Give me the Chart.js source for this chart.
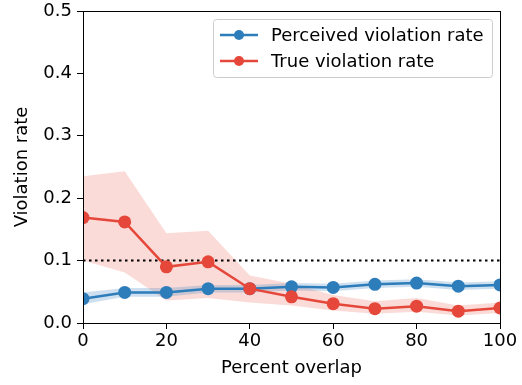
<!DOCTYPE html>
<html><head><meta charset="utf-8">
<script src="https://cdn.jsdelivr.net/npm/chart.js@4/dist/chart.umd.min.js"></script>
<style>html,body{margin:0;padding:0;background:#fff}#wrap{width:522px;height:385px}</style>
</head><body><div id="wrap"><canvas id="c" width="522" height="385"></canvas></div>
<script>
const overlap = [0,10,20,30,40,50,60,70,80,90,100];
const perceived = [0.039,0.049,0.049,0.055,0.055,0.058,0.057,0.062,0.064,0.059,0.061];
const perceivedLow = [0.030,0.042,0.042,0.049,0.049,0.052,0.051,0.056,0.058,0.053,0.055];
const perceivedHigh = [0.049,0.056,0.056,0.061,0.061,0.064,0.063,0.068,0.070,0.065,0.067];
const trueRate = [0.169,0.162,0.090,0.098,0.055,0.042,0.031,0.023,0.027,0.019,0.024];
const trueLow = [0.100,0.081,0.036,0.040,0.033,0.028,0.020,0.015,0.018,0.012,0.016];
const trueHigh = [0.235,0.243,0.144,0.148,0.076,0.063,0.045,0.035,0.040,0.028,0.033];
const threshold = 0.1;
const xTicks = [0,20,40,60,80,100];
const yTicks = [0,0.1,0.2,0.3,0.4,0.5];
const seriesNames = ['Perceived violation rate','True violation rate'];

const BLUE = '#2d7dbb', RED = '#e5483a';
const pts = a => a.map((v,i)=>({x:overlap[i], y:v}));
const FONT = 'DejaVu Sans';

const framePlugin = {
  id:'frame',
  afterDraw(chart){
    const {ctx, chartArea:a} = chart;
    ctx.save();
    ctx.strokeStyle='#000'; ctx.lineWidth=1;
    ctx.strokeRect(a.left+0.5, a.top+0.5, a.right-a.left, a.bottom-a.top);
    // legend
    const lx=213.5, ly=19.5, lw=279, lh=58;
    ctx.fillStyle='rgba(255,255,255,0.85)';
    ctx.strokeStyle='#cccccc';
    ctx.beginPath();
    if (ctx.roundRect) ctx.roundRect(lx,ly,lw,lh,3); else ctx.rect(lx,ly,lw,lh);
    ctx.fill(); ctx.stroke();
    const items=[[seriesNames[0],BLUE],[seriesNames[1],RED]];
    items.forEach((it,i)=>{
      const y = 35 + i*26;
      ctx.strokeStyle=it[1]; ctx.lineWidth=2.5;
      ctx.beginPath(); ctx.moveTo(220,y); ctx.lineTo(258,y); ctx.stroke();
      ctx.fillStyle=it[1];
      ctx.beginPath(); ctx.arc(239,y,5,0,Math.PI*2); ctx.fill();
      ctx.fillStyle='#000'; ctx.font='18px "'+FONT+'"';
      ctx.textBaseline='middle'; ctx.textAlign='left';
      ctx.fillText(it[0], 271, y+1);
    });
    ctx.restore();
  }
};

new Chart(document.getElementById('c'), {
  type:'line',
  data:{datasets:[
    {label:'tl', order:5, data:pts(trueLow), borderWidth:0, pointRadius:0, fill:false, borderColor:'transparent'},
    {label:'th', order:5, data:pts(trueHigh), borderWidth:0, pointRadius:0, fill:'-1', backgroundColor:'rgba(238,110,100,0.25)', borderColor:'transparent'},
    {label:'pl', order:4, data:pts(perceivedLow), borderWidth:0, pointRadius:0, fill:false, borderColor:'transparent'},
    {label:'ph', order:4, data:pts(perceivedHigh), borderWidth:0, pointRadius:0, fill:'-1', backgroundColor:'rgba(60,130,190,0.25)', borderColor:'transparent'},
    {label:'thr', order:3, data:[{x:0,y:threshold},{x:100,y:threshold}], borderColor:'#000', borderWidth:2, borderDash:[2.5,3.5], pointRadius:0, fill:false},
    {label:seriesNames[1], order:0, data:pts(trueRate), borderColor:RED, backgroundColor:RED, borderWidth:2.5, pointRadius:6.5, pointBorderWidth:0, fill:false},
    {label:seriesNames[0], order:1, data:pts(perceived), borderColor:BLUE, backgroundColor:BLUE, borderWidth:2.5, pointRadius:6.5, pointBorderWidth:0, fill:false}
  ]},
  options:{
    responsive:false, animation:false,
    layout:{padding:{left:0, top:11, right:22, bottom:0}},
    plugins:{legend:{display:false}, tooltip:{enabled:false}},
    scales:{
      x:{type:'linear', min:0, max:100,
        afterBuildTicks(s){ s.ticks = xTicks.map(v=>({value:v})); },
        afterFit(s){ s.height = 62; s.paddingLeft = 0; s.paddingRight = 0; },
        ticks:{color:'#000', font:{family:FONT, size:18}, padding:2, maxRotation:0},
        grid:{display:true, drawOnChartArea:false, tickLength:6, color:'#000'},
        border:{display:true, color:'#000'},
        title:{display:true, text:'Percent overlap', color:'#000', font:{family:FONT, size:18}, padding:{top:4,bottom:6}}
      },
      y:{type:'linear', min:0, max:0.5,
        afterBuildTicks(s){ s.ticks = yTicks.map(v=>({value:v})); },
        afterFit(s){ s.width = 83; s.paddingTop = 0; s.paddingBottom = 0; },
        ticks:{color:'#000', font:{family:FONT, size:18}, padding:5, callback:v=>v.toFixed(1)},
        grid:{display:true, drawOnChartArea:false, tickLength:6, color:'#000'},
        border:{display:true, color:'#000'},
        title:{display:true, text:'Violation rate', color:'#000', font:{family:FONT, size:18}, padding:{top:12,bottom:4}}
      }
    }
  },
  plugins:[framePlugin]
});
</script></body></html>
